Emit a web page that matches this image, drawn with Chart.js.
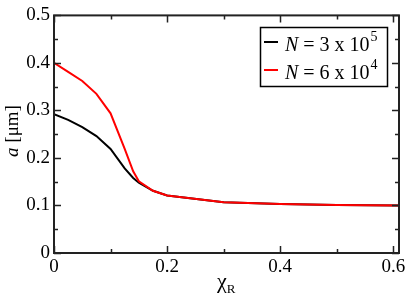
<!DOCTYPE html>
<html>
<head>
<meta charset="utf-8">
<script src="https://cdn.jsdelivr.net/npm/chart.js@4"></script>
<style>
  body { margin: 0; background: #fff; }
  canvas { display: block; }
</style>
</head>
<body>
<canvas id="chart" width="409" height="298"></canvas>
<script>
// data
var chiR = [0, 0.025, 0.05, 0.075, 0.1, 0.125, 0.14, 0.15, 0.175, 0.2, 0.3, 0.4, 0.5, 0.61];
var aLarge = [0.292, 0.280, 0.265, 0.246, 0.219, 0.178, 0.158, 0.148, 0.131, 0.121, 0.107, 0.103, 0.101, 0.100];
var aSmall = [0.400, 0.381, 0.362, 0.335, 0.294, 0.219, 0.172, 0.151, 0.131, 0.121, 0.107, 0.103, 0.101, 0.100];
var seriesNames = [['3 x 10', '5'], ['6 x 10', '4']];
var seriesColors = ['#000000', '#ff0000'];
var xMajor = [0, 0.2, 0.4, 0.6];
var xMinor = [0.1, 0.3, 0.5];
var yMajor = [0, 0.1, 0.2, 0.3, 0.4, 0.5];
var yMinor = [0.05, 0.15, 0.25, 0.35, 0.45];

var serif = '"Liberation Serif", "Times New Roman", serif';

function toPoints(xs, ys) {
    return xs.map(function (x, i) { return { x: x, y: ys[i] }; });
}

// frame with inward ticks on all four sides, axis titles and legend
var frame = {
    id: 'frame',
    afterDatasetsDraw: function (chart) {
        var ctx = chart.ctx, a = chart.chartArea;
        var xs = chart.scales.x, ys = chart.scales.y;
        ctx.save();
        ctx.strokeStyle = '#222';
        ctx.lineWidth = 1.5;
        ctx.beginPath();
        xMajor.concat(xMinor).forEach(function (v) {
            var len = xMajor.indexOf(v) >= 0 ? 7 : 4;
            var px = Math.round(xs.getPixelForValue(v)) + 0.5;
            ctx.moveTo(px, a.bottom); ctx.lineTo(px, a.bottom - len);
            ctx.moveTo(px, a.top); ctx.lineTo(px, a.top + len);
        });
        yMajor.concat(yMinor).forEach(function (v) {
            var len = yMajor.indexOf(v) >= 0 ? 7 : 4;
            var py = Math.round(ys.getPixelForValue(v)) + 0.5;
            ctx.moveTo(a.left, py); ctx.lineTo(a.left + len, py);
            ctx.moveTo(a.right, py); ctx.lineTo(a.right - len, py);
        });
        ctx.stroke();
        ctx.lineWidth = 2;
        ctx.strokeRect(a.left, a.top, a.right - a.left, a.bottom - a.top);
        ctx.restore();
    },
    afterDraw: function (chart) {
        var ctx = chart.ctx;
        ctx.save();
        ctx.fillStyle = '#000';
        ctx.textBaseline = 'alphabetic';

        // y axis title
        ctx.translate(18, 131);
        ctx.rotate(-Math.PI / 2);
        ctx.font = 'italic 19px ' + serif;
        var w1 = ctx.measureText('a ').width;
        ctx.font = '19px ' + serif;
        var w2 = ctx.measureText('[μm]').width;
        var sx = -(w1 + w2) / 2;
        ctx.font = 'italic 19px ' + serif;
        ctx.fillText('a ', sx, 0);
        ctx.font = '19px ' + serif;
        ctx.fillText('[μm]', sx + w1, 0);
        ctx.setTransform(1, 0, 0, 1, 0, 0);

        // x axis title
        ctx.font = '22px ' + serif;
        ctx.fillText('χ', 217, 288);
        var cw = ctx.measureText('χ').width;
        ctx.font = '13px ' + serif;
        ctx.fillText('R', 217 + cw, 293);

        // legend
        var lx = 260, ly = 27, lw = 127, lh = 59;
        ctx.fillStyle = '#fff';
        ctx.fillRect(lx, ly, lw, lh);
        ctx.strokeStyle = '#000';
        ctx.lineWidth = 1.5;
        ctx.strokeRect(lx + 0.5, ly + 0.5, lw, lh);
        chart.data.datasets.forEach(function (ds, i) {
            var cy = ly + 15 + i * 28;
            ctx.strokeStyle = ds.borderColor;
            ctx.lineWidth = 2;
            ctx.beginPath();
            ctx.moveTo(264, cy); ctx.lineTo(278, cy);
            ctx.stroke();
            var base = cy + 9;
            var tx = 285;
            ctx.fillStyle = '#000';
            ctx.font = 'italic 20px ' + serif;
            ctx.fillText('N', tx, base);
            tx += ctx.measureText('N').width;
            ctx.font = '20px ' + serif;
            var txt = ' = ' + seriesNames[i][0];
            ctx.fillText(txt, tx, base);
            tx += ctx.measureText(txt).width;
            ctx.font = '14px ' + serif;
            ctx.fillText(seriesNames[i][1], tx + 1, base - 10);
        });
        ctx.restore();
    }
};

var ctxLine = document.getElementById('chart');
var chart = new Chart(ctxLine, {
    type: 'line',
    data: {
        datasets: [{
            label: 'N = 3 x 10^5',
            data: toPoints(chiR, aLarge),
            borderColor: seriesColors[0],
            borderWidth: 2,
            pointRadius: 0,
            tension: 0,
            order: 1
        }, {
            label: 'N = 6 x 10^4',
            data: toPoints(chiR, aSmall),
            borderColor: seriesColors[1],
            borderWidth: 2,
            pointRadius: 0,
            tension: 0,
            order: 0
        }]
    },
    options: {
        responsive: false,
        animation: false,
        layout: { padding: { top: 10, right: 10, left: 0, bottom: 0 } },
        plugins: {
            legend: { display: false },
            tooltip: { enabled: false }
        },
        scales: {
            x: {
                type: 'linear',
                min: 0,
                max: 0.61,
                grid: { display: false, drawTicks: false },
                border: { display: false },
                ticks: {
                    stepSize: 0.2,
                    includeBounds: false,
                    padding: 3,
                    color: '#000',
                    maxRotation: 0,
                    font: { family: serif, size: 19 },
                    callback: function (v) { return v === 0 ? '0' : v.toFixed(1); }
                },
                afterFit: function (s) { s.height = 45; }
            },
            y: {
                min: 0,
                max: 0.5,
                grid: { display: false, drawTicks: false },
                border: { display: false },
                ticks: {
                    stepSize: 0.1,
                    padding: 4,
                    color: '#000',
                    font: { family: serif, size: 19 },
                    callback: function (v) { return v === 0 ? '0' : v.toFixed(1); }
                },
                afterFit: function (s) { s.width = 54; }
            }
        }
    },
    plugins: [frame]
});
</script>
</body>
</html>
